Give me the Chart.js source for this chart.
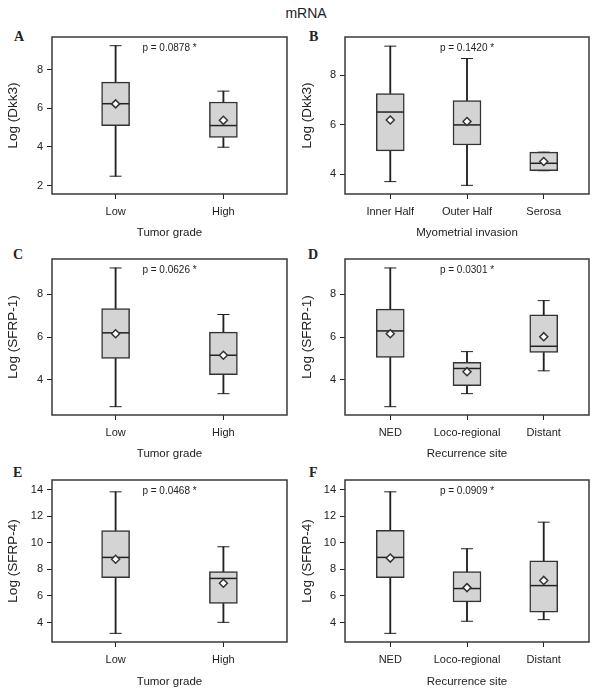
<!DOCTYPE html>
<html>
<head>
<meta charset="utf-8">
<script src="https://cdn.jsdelivr.net/npm/chart.js@4.4.1/dist/chart.umd.min.js"></script>
<style>
  body { margin: 0; background: #fff; }
  #page { position: relative; width: 604px; height: 696px; font-family: "Liberation Sans", Arial, sans-serif; color: #222; }
  #page canvas { position: absolute; }
  .title { position: absolute; left: 0; width: 612px; top: 5px; text-align: center; font-size: 14px; }
  .letter { position: absolute; font-family: "Liberation Serif", "Times New Roman", serif; font-weight: bold; font-size: 14px; line-height: 14px; }
</style>
</head>
<body>
<div id="page">
  <div class="title">mRNA</div>
  <div class="letter" style="left:14px;top:30px">A</div>
  <div class="letter" style="left:309px;top:30px">B</div>
  <div class="letter" style="left:13px;top:248px">C</div>
  <div class="letter" style="left:308px;top:248px">D</div>
  <div class="letter" style="left:13px;top:466px">E</div>
  <div class="letter" style="left:309px;top:466px">F</div>
  <canvas id="chartA" width="302" height="222" style="left:0;top:22px"></canvas>
  <canvas id="chartB" width="305" height="222" style="left:299px;top:22px"></canvas>
  <canvas id="chartC" width="302" height="221" style="left:0;top:244px"></canvas>
  <canvas id="chartD" width="305" height="221" style="left:299px;top:244px"></canvas>
  <canvas id="chartE" width="302" height="228" style="left:0;top:465px"></canvas>
  <canvas id="chartF" width="305" height="228" style="left:299px;top:465px"></canvas>
</div>
<script>
// values (whisker low, Q1, median, Q3, whisker high, mean)
const catsGrade = ['Low', 'High'];
const catsInvasion = ['Inner Half', 'Outer Half', 'Serosa'];
const catsSite = ['NED', 'Loco-regional', 'Distant'];

// A: Dkk3 by tumor grade
const loA = [2.48, 3.98];
const q1A = [5.10, 4.48];
const medA = [6.23, 5.10];
const q3A = [7.35, 6.32];
const hiA = [9.23, 6.88];
const meanA = [6.22, 5.37];

// B: Dkk3 by myometrial invasion
const loB = [3.71, 3.56, 4.15];
const q1B = [4.95, 5.19, 4.15];
const medB = [6.52, 6.00, 4.45];
const q3B = [7.27, 6.98, 4.90];
const hiB = [9.18, 8.68, 4.90];
const meanB = [6.20, 6.14, 4.52];

// C: SFRP-1 by tumor grade
const loC = [2.74, 3.35];
const q1C = [5.00, 4.24];
const medC = [6.20, 5.15];
const q3C = [7.34, 6.23];
const hiC = [9.24, 7.06];
const meanC = [6.16, 5.15];

// D: SFRP-1 by recurrence site
const loD = [2.74, 3.35, 4.42];
const q1D = [5.05, 3.72, 5.28];
const medD = [6.29, 4.53, 5.57];
const q3D = [7.31, 4.82, 7.04];
const hiD = [9.24, 5.32, 7.71];
const meanD = [6.16, 4.38, 6.02];

// E: SFRP-4 by tumor grade
const loE = [3.19, 4.02];
const q1E = [7.37, 5.44];
const medE = [8.90, 7.32];
const q3E = [10.92, 7.83];
const hiE = [13.83, 9.70];
const meanE = [8.76, 6.96];

// F: SFRP-4 by recurrence site
const loF = [3.19, 4.10, 4.22];
const q1F = [7.37, 5.56, 4.78];
const medF = [8.90, 6.56, 6.78];
const q3F = [10.94, 7.83, 8.64];
const hiF = [13.83, 9.55, 11.55];
const meanF = [8.85, 6.63, 7.17];

const pValues = ['0.0878', '0.1420', '0.0626', '0.0301', '0.0468', '0.0909'];

const INK = '#222';
const xTitleFont = { family: '"Liberation Sans", sans-serif', size: 11.5 };
const yTitleFont = { family: '"Liberation Sans", sans-serif', size: 13.5 };
const tickFont = { family: '"Liberation Sans", sans-serif', size: 11 };

// draws the plot frame and the p-value note
const framePlugin = {
  id: 'frame',
  afterDraw(chart, args, opts) {
    const { ctx, chartArea: a } = chart;
    ctx.save();
    ctx.strokeStyle = '#3a3a3a';
    ctx.lineWidth = 1.5;
    ctx.strokeRect(a.left, a.top, a.right - a.left, a.bottom - a.top);
    ctx.fillStyle = INK;
    ctx.font = '10px "Liberation Sans", sans-serif';
    ctx.textAlign = 'center';
    ctx.textBaseline = 'middle';
    ctx.fillText('p = ' + opts.p + ' *', (a.left + a.right) / 2, a.top + 11.5);
    ctx.restore();
  }
};

const pts = (vals) => vals.map((v, i) => ({ x: i, y: v }));
const span = (a, b) => a.map((v, i) => ({ x: i, y: [v, b[i]] }));

function boxPlot(id, cats, lo, q1, med, q3, hi, mean, p, yMin, yMax, step, xTitle, yTitle, lay) {
  new Chart(document.getElementById(id), {
    type: 'bar',
    data: {
      datasets: [
        { type: 'scatter', data: pts(mean), pointStyle: 'rectRot', radius: 4,
          backgroundColor: '#fff', borderColor: '#333', borderWidth: 1.5 },
        { type: 'scatter', data: pts(med), pointStyle: 'line', radius: 13.5,
          borderColor: INK, borderWidth: 1.5 },
        { data: span(q1, q3), barThickness: 28, grouped: false, backgroundColor: '#d4d4d4',
          borderColor: '#333', borderWidth: 1.5, borderSkipped: false },
        { type: 'scatter', data: pts(hi).concat(pts(lo)), pointStyle: 'line', radius: 6,
          borderColor: INK, borderWidth: 1 },
        { data: span(q3, hi), barThickness: 1.2, grouped: false, backgroundColor: INK, borderWidth: 0 },
        { data: span(lo, q1), barThickness: 1.2, grouped: false, backgroundColor: INK, borderWidth: 0 }
      ]
    },
    options: {
      responsive: false,
      animation: false,
      devicePixelRatio: 1,
      layout: { padding: { left: 0, right: lay.padR, top: lay.padT, bottom: 0 } },
      plugins: { legend: { display: false }, tooltip: { enabled: false }, frame: { p: p } },
      scales: {
        x: {
          type: 'linear', offset: false, min: -0.59, max: cats.length - 0.41,
          afterBuildTicks: (s) => { s.ticks = cats.map((c, i) => ({ value: i })); },
          afterFit: (s) => { s.height = lay.xh; },
          grid: { offset: false, drawOnChartArea: false, drawTicks: true, tickLength: 5, color: INK },
          border: { display: false },
          ticks: { font: tickFont, color: INK, padding: 6, maxRotation: 0, autoSkip: false, callback: (v) => cats[v] },
          title: { display: true, text: xTitle, font: xTitleFont, color: INK, padding: { top: 0, bottom: 4 } }
        },
        y: {
          min: yMin, max: yMax,
          afterFit: (s) => { s.width = lay.yw; },
          grid: { drawOnChartArea: false, drawTicks: true, tickLength: 5, color: INK },
          border: { display: false },
          ticks: { stepSize: step, includeBounds: false, font: tickFont, color: INK, padding: 4 },
          title: { display: true, text: yTitle, font: yTitleFont, color: INK, padding: { top: lay.tp, bottom: 0 } }
        }
      }
    },
    plugins: [framePlugin]
  });
}

const leftLay = { yw: 52, padR: 13, tp: 5 };
const rightLay = { yw: 46, padR: 9, tp: 0 };

boxPlot('chartA', catsGrade, loA, q1A, medA, q3A, hiA, meanA, pValues[0], 1.56, 9.68, 2,
  'Tumor grade', 'Log (Dkk3)', { ...leftLay, padT: 10, xh: 50 });
boxPlot('chartB', catsInvasion, loB, q1B, medB, q3B, hiB, meanB, pValues[1], 3.21, 9.55, 2,
  'Myometrial invasion', 'Log (Dkk3)', { ...rightLay, padT: 10, xh: 50 });
boxPlot('chartC', catsGrade, loC, q1C, medC, q3C, hiC, meanC, pValues[2], 2.35, 9.66, 2,
  'Tumor grade', 'Log (SFRP-1)', { ...leftLay, padT: 8, xh: 50 });
boxPlot('chartD', catsSite, loD, q1D, medD, q3D, hiD, meanD, pValues[3], 2.35, 9.66, 2,
  'Recurrence site', 'Log (SFRP-1)', { ...rightLay, padT: 8, xh: 50 });
boxPlot('chartE', catsGrade, loE, q1E, medE, q3E, hiE, meanE, pValues[4], 2.54, 14.72, 2,
  'Tumor grade', 'Log (SFRP-4)', { ...leftLay, padT: 8, xh: 51 });
boxPlot('chartF', catsSite, loF, q1F, medF, q3F, hiF, meanF, pValues[5], 2.54, 14.72, 2,
  'Recurrence site', 'Log (SFRP-4)', { ...rightLay, padT: 8, xh: 51 });
</script>
</body>
</html>
